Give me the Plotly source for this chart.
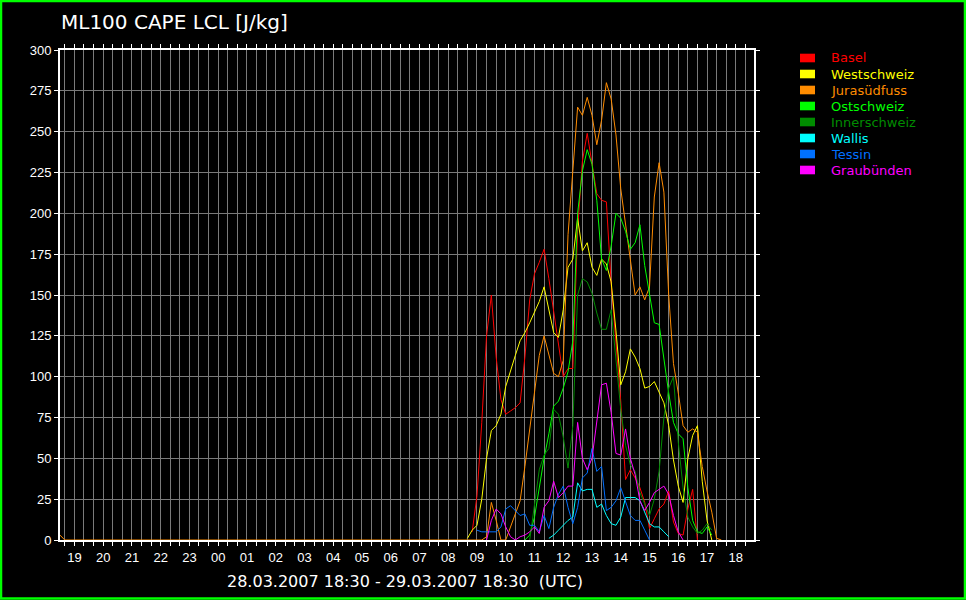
import pandas as pd
import plotly.graph_objects as go

# ---------------- data ----------------
times = pd.date_range("2007-03-29 08:40", "2007-03-29 17:40", freq="10min")

jura_early_times = ["2007-03-28 18:30", "2007-03-28 18:40"]
jura_early_vals = [3, 0]

N = None
basel = [N, 5, 27, 72, 125, 150, 112, 86, 77, 79, 81, 84, 112, 147, 163, 170, 178, 160, 140, 118,
         100, 105, 105, 190, 232, 249, 230, 212, 208, 207, 157, 123, 85, 37, 43, 38, 32, 23, 7, 13,
         19, 22, 30, 11, 4, 3, 19, 31, 0, N, N, N, N, N, N]
westschweiz = [1, 6, 9, 25, 50, 67, 70, 77, 94, 104, 113, 122, 127, 133, 139, 146, 155, 141, 127, 124,
               141, 167, 172, 197, 177, 182, 167, 162, 172, 169, 158, 128, 95, 103, 117, 112, 105, 93, 94, 97,
               90, 84, 70, 49, 33, 23, 50, 64, 70, 36, 12, 0, N, N, N]
jurasuedfuss = [0, 0, 0, 0, 2, 23, 12, 0, 0, 8, 15, 24, 45, 68, 92, 113, 125, 113, 102, 100,
                110, 187, 225, 265, 260, 271, 260, 242, 257, 280, 270, 248, 215, 193, 170, 150, 155, 147, 155, 210,
                231, 213, 150, 108, 90, 70, 66, 68, 66, 45, 30, 17, 1, 0, N]
ostschweiz = [N] * 12 + [0, 3, 14, 33, 50, 65, 82, 85, 93, 103,
                         122, 200, 226, 239, 230, 208, 172, 165, 180, 200,
                         197, 189, 178, 182, 193, 168, 150, 133, 132, 110,
                         90, 72, 65, 62, 32, 12, 5, 4, 8, 3] + [N] * 3
innerschweiz = [N] * 13 + [0, 22, 43, 52, 56, 80, 77, 63, 44, 70,
                           150, 160, 158, 151, 139, 129, 129, 141, 110, 80,
                           58, 46, 42, 29, 22, 15, 25, 42, 75, 93,
                           100, 60, 32, 14, 8, 4, 6, 10, 6] + [N] * 3
wallis = [N] * 17 + [1, 3, 6, 9, 12, 14, 35, 30, 31, 31,
                     20, 22, 15, 10, 9, 14, 26, 26, 26, 24,
                     17, 10, 8, 8, 5, 2] + [N] * 12
tessin = [N] * 2 + [6, 5, 5, 5, 5, 8, 19, 21, 18, 15,
                    16, 9, 9, 5, 15, 7, 20, 28, 33, 20,
                    10, 20, 38, 41, 56, 42, 45, 18, 20, 24,
                    32, 24, 15, 12, 12, 6, 0] + [N] * 16
graubuenden = [N] * 4 + [0, 12, 19, 16, 8, 2, 0, 2, 3, 5,
                         8, 4, 20, 24, 36, 26, 29, 33, 33, 72,
                         50, 43, 50, 72, 95, 96, 78, 53, 52, 68,
                         50, 40, 24, 18, 23, 29, 31, 33, 28, 15,
                         5, 0] + [N] * 9

series_names = ["Basel", "Westschweiz", "Jurasüdfuss", "Ostschweiz",
                "Innerschweiz", "Wallis", "Tessin", "Graubünden"]
series_values = [basel, westschweiz, jurasuedfuss, ostschweiz,
                 innerschweiz, wallis, tessin, graubuenden]
series_colors = ["#ff0000", "#ffff00", "#ff8c00", "#00ff00",
                 "#008c00", "#00ffff", "#0070ff", "#ff00ff"]

title_text = "ML100 CAPE LCL [J/kg]"
period_text = "28.03.2007 18:30 - 29.03.2007 18:30 \u00a0(UTC)"
x_range = ["2007-03-28 18:30", "2007-03-29 18:38"]

# ---------------- figure ----------------
W, H = 966, 600
ML, MR, MT, MB = 60, 212, 50, 60
PW, PH = W - ML - MR, H - MT - MB


def px_x(px):
    return (px - ML) / PW


def px_y(py):
    return (H - MB - py) / PH


fig = go.Figure()
time_list = list(times)
for name, vals, col in zip(series_names, series_values, series_colors):
    xs = time_list
    ys = vals
    if name == "Jurasüdfuss":
        xs = list(pd.to_datetime(jura_early_times)) + time_list
        ys = jura_early_vals + vals
    fig.add_trace(go.Scatter(x=xs, y=ys, mode="lines", name=name,
                             line=dict(color=col, width=1), showlegend=False,
                             connectgaps=False))

grid_col = "#7a7a7a"
fig.update_xaxes(
    type="date", range=x_range,
    tick0="2007-03-28 19:00", dtick=3600000, tickformat="%H",
    ticks="outside", ticklen=4, tickcolor="white", tickwidth=1,
    showline=True, linecolor="white", linewidth=2, mirror="ticks",
    showgrid=True, gridcolor=grid_col, gridwidth=1, zeroline=False,
    tickfont=dict(family="Liberation Sans", size=13, color="white"),
    minor=dict(dtick=1200000, tick0="2007-03-28 18:40", showgrid=True,
               gridcolor=grid_col, gridwidth=1, ticks="outside", ticklen=4,
               tickcolor="white"),
    layer="above traces",
)
fig.update_yaxes(
    range=[0, 300], tick0=0, dtick=25,
    ticks="outside", ticklen=4, tickcolor="white", tickwidth=1,
    showline=True, linecolor="white", linewidth=2, mirror="ticks",
    showgrid=True, gridcolor=grid_col, gridwidth=1, zeroline=False,
    tickfont=dict(family="Liberation Sans", size=13, color="white"),
    layer="above traces",
)

annotations = [
    dict(x=px_x(405), y=px_y(581), xref="paper", yref="paper", text=period_text,
         showarrow=False, xanchor="center", yanchor="middle",
         font=dict(family="DejaVu Sans", size=16, color="white")),
]
shapes = []
for i, (name, col) in enumerate(zip(series_names, series_colors)):
    cy = 58 + 16 * i
    shapes.append(dict(type="rect", xref="paper", yref="paper",
                       x0=px_x(800), x1=px_x(815), y0=px_y(cy + 4.3), y1=px_y(cy - 4.3),
                       fillcolor=col, line=dict(width=0)))
    annotations.append(dict(x=px_x(829), y=px_y(cy), xref="paper", yref="paper",
                            text=name, showarrow=False, xanchor="left", yanchor="middle",
                            font=dict(family="DejaVu Sans", size=13, color=col)))

shapes.append(dict(type="rect", xref="paper", yref="paper",
                   x0=px_x(1), x1=px_x(W - 1), y0=px_y(H - 1.5), y1=px_y(1),
                   line=dict(color="#00ff00", width=2.5), fillcolor="rgba(0,0,0,0)"))

fig.update_layout(
    width=W, height=H,
    margin=dict(l=ML, r=MR, t=MT, b=MB, pad=0),
    paper_bgcolor="black", plot_bgcolor="black",
    font=dict(family="DejaVu Sans", color="white"),
    title=dict(text=title_text, x=61 / W, xanchor="left", xref="container",
               y=1 - 22 / H, yanchor="middle", yref="container",
               font=dict(family="DejaVu Sans", size=20, color="white")),
    showlegend=False,
    annotations=annotations,
    shapes=shapes,
)

fig.write_html("out.html",
               config={"displayModeBar": False},
               post_script="document.body.style.margin='0px';document.body.style.background='black';")
